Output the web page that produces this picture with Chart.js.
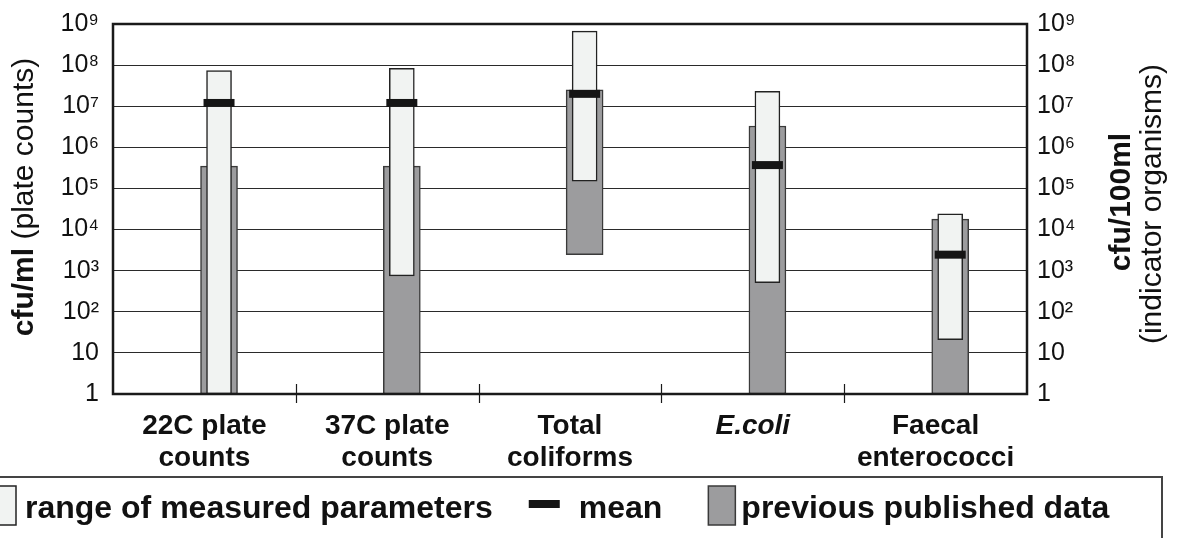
<!DOCTYPE html>
<html>
<head>
<meta charset="utf-8">
<script src="https://cdn.jsdelivr.net/npm/chart.js@4.4.1/dist/chart.umd.min.js"></script>
<style>
  html, body { margin: 0; padding: 0; background: #fff; }
  #wrap { width: 1183px; height: 538px; position: relative; }
</style>
</head>
<body>
<div id="wrap"><canvas id="bugChart"></canvas></div>
<script>
// data (log scale, cfu)
const categories = [['22C plate', 'counts'], ['37C plate', 'counts'], ['Total', 'coliforms'], ['E.coli'], ['Faecal', 'enterococci']];
const prevLow = [1, 1, 2450, 1, 1];
const prevHigh = [3.5e5, 3.5e5, 2.5e7, 3.3e6, 1.8e4];
const rangeLow = [1, 750, 1.5e5, 510, 21];
const rangeHigh = [7.4e7, 8.4e7, 6.7e8, 2.3e7, 2.4e4];
const means = [1.2e7, 1.2e7, 2.0e7, 3.7e5, 2450];
const yTicks = [1, 10, 1e2, 1e3, 1e4, 1e5, 1e6, 1e7, 1e8, 1e9];
const yTickLabels = ['1', '10', '10²', '10³', '10⁴', '10⁵', '10⁶', '10⁷', '10⁸', '10⁹'];

const FONT = '"Liberation Sans", Arial, Helvetica, sans-serif';
const INK = '#111';

function powTicks(scale) {
    scale.ticks = yTicks.map(v => ({ value: v }));
}
function tickLabel(value) {
    const i = yTicks.indexOf(value);
    return i >= 0 ? yTickLabels[i] : '';
}
// fixed side width, and no extra room asked for the end labels
function fitSide(width) {
    return (scale) => {
        scale.width = width;
        scale.paddingTop = 0;
        scale.paddingBottom = 0;
    };
}

// frame, category separators, axis titles and the boxed legend
const decorations = {
    id: 'decorations',
    afterDatasetsDraw(chart) {
        const { ctx, chartArea: a } = chart;
        const xs = chart.scales.x;
        ctx.save();
        ctx.strokeStyle = '#1a1a1a';
        ctx.lineWidth = 2.5;
        ctx.strokeRect(a.left, a.top, a.right - a.left, a.bottom - a.top);
        ctx.lineWidth = 1.2;
        for (let i = 0; i < categories.length - 1; i++) {
            const px = Math.round((xs.getPixelForValue(i) + xs.getPixelForValue(i + 1)) / 2) + 0.5;
            ctx.beginPath();
            ctx.moveTo(px, a.bottom - 10);
            ctx.lineTo(px, a.bottom + 9);
            ctx.stroke();
        }
        ctx.restore();
    },
    afterDraw(chart) {
        const ctx = chart.ctx;
        const ds = chart.data.datasets;
        ctx.save();
        ctx.fillStyle = INK;
        ctx.textBaseline = 'alphabetic';

        // left title: bold unit + plain note, rotated
        ctx.save();
        ctx.translate(33, 197);
        ctx.rotate(-Math.PI / 2);
        ctx.font = 'bold 30px ' + FONT;
        const wb = ctx.measureText('cfu/ml').width;
        ctx.font = '30px ' + FONT;
        const wr = ctx.measureText(' (plate counts)').width;
        const start = -(wb + wr) / 2;
        ctx.textAlign = 'left';
        ctx.font = 'bold 30px ' + FONT;
        ctx.fillText('cfu/ml', start, 0);
        ctx.font = '30px ' + FONT;
        ctx.fillText(' (plate counts)', start + wb, 0);
        ctx.restore();

        // right title, two lines
        ctx.save();
        ctx.textAlign = 'center';
        ctx.translate(1130, 202);
        ctx.rotate(-Math.PI / 2);
        ctx.font = 'bold 30px ' + FONT;
        ctx.fillText('cfu/100ml', 0, 0);
        ctx.restore();
        ctx.save();
        ctx.textAlign = 'center';
        ctx.translate(1161, 204);
        ctx.rotate(-Math.PI / 2);
        ctx.font = '30px ' + FONT;
        ctx.fillText('(indicator organisms)', 0, 0);
        ctx.restore();

        // legend box
        const top = 477, base = 518;
        ctx.strokeStyle = '#444';
        ctx.lineWidth = 2;
        ctx.strokeRect(-5, top, 1167, 100);
        ctx.font = 'bold 32px ' + FONT;
        ctx.textAlign = 'left';

        const light = ds[1], dark = ds[0], mean = ds[2];
        let x = -11;
        ctx.fillStyle = light.backgroundColor;
        ctx.fillRect(x, 486, 27, 39);
        ctx.strokeStyle = light.borderColor;
        ctx.lineWidth = 1.5;
        ctx.strokeRect(x, 486, 27, 39);
        x += 27 + 9;
        ctx.fillStyle = INK;
        ctx.fillText(light.label, x, base);
        x += ctx.measureText(light.label).width + 36;

        ctx.fillStyle = mean.pointBorderColor;
        ctx.fillRect(x, 500, 31, 8);
        x += 31 + 19;
        ctx.fillStyle = INK;
        ctx.fillText(mean.label, x, base);
        x += ctx.measureText(mean.label).width + 46;

        ctx.fillStyle = dark.backgroundColor;
        ctx.fillRect(x, 486, 27, 39);
        ctx.strokeStyle = dark.borderColor;
        ctx.strokeRect(x, 486, 27, 39);
        x += 27 + 6;
        ctx.fillStyle = INK;
        ctx.fillText(dark.label, x, base);
        ctx.restore();
    }
};

const ctx = document.getElementById('bugChart').getContext('2d');
const myChart = new Chart(ctx, {
    type: 'bar',
    data: {
        labels: categories,
        datasets: [
            {
                label: 'previous published data',
                data: prevLow.map((lo, i) => ({ x: i, y: [lo, prevHigh[i]] })),
                backgroundColor: '#9c9c9e',
                borderColor: '#3a3a3a',
                borderWidth: 1.5,
                borderSkipped: false,
                barThickness: 37,
                grouped: false,
                xAxisID: 'xb',
                yAxisID: 'y',
                order: 3
            },
            {
                label: 'range of measured parameters',
                data: rangeLow.map((lo, i) => ({ x: i, y: [lo, rangeHigh[i]] })),
                backgroundColor: '#f1f3f2',
                borderColor: '#222',
                borderWidth: 1.5,
                borderSkipped: false,
                barThickness: 25,
                grouped: false,
                xAxisID: 'xb',
                yAxisID: 'y',
                order: 2
            },
            {
                type: 'line',
                label: 'mean',
                data: means.map((m, i) => ({ x: i, y: m })),
                showLine: false,
                pointStyle: 'line',
                pointRadius: 15.5,
                pointHoverRadius: 15.5,
                pointBorderWidth: 8,
                pointBorderColor: '#151515',
                borderColor: '#151515',
                xAxisID: 'xb',
                yAxisID: 'y',
                order: 1
            }
        ]
    },
    options: {
        responsive: true,
        maintainAspectRatio: false,
        animation: false,
        layout: { padding: { top: 24, right: 0, bottom: 0, left: 0 } },
        plugins: { legend: { display: false }, tooltip: { enabled: false } },
        scales: {
            x: {
                type: 'category',
                position: 'bottom',
                offset: true,
                grid: { display: false },
                border: { display: false },
                ticks: {
                    color: INK,
                    padding: 9,
                    maxRotation: 0,
                    autoSkip: false,
                    font: (c) => ({
                        family: FONT,
                        size: 28,
                        weight: 'bold',
                        style: c.index === 3 ? 'italic' : 'normal',
                        lineHeight: 1.12
                    })
                },
                afterFit: (scale) => { scale.height = 144; }
            },
            xb: {
                type: 'linear',
                display: false,
                offset: false,
                min: -0.58,
                max: 4.42
            },
            y: {
                type: 'logarithmic',
                position: 'left',
                min: 1,
                max: 1e9,
                afterBuildTicks: powTicks,
                grid: { color: '#2a2a2a', lineWidth: 1, drawTicks: false },
                border: { display: false },
                ticks: {
                    color: INK,
                    padding: 14,
                    font: { family: FONT, size: 25 },
                    callback: tickLabel
                },
                afterFit: fitSide(113)
            },
            y2: {
                type: 'logarithmic',
                position: 'right',
                min: 1,
                max: 1e9,
                afterBuildTicks: powTicks,
                grid: { drawOnChartArea: false, drawTicks: false },
                border: { display: false },
                ticks: {
                    color: INK,
                    padding: 10,
                    font: { family: FONT, size: 25 },
                    callback: tickLabel
                },
                afterFit: fitSide(156)
            }
        }
    },
    plugins: [decorations]
});
</script>
</body>
</html>
